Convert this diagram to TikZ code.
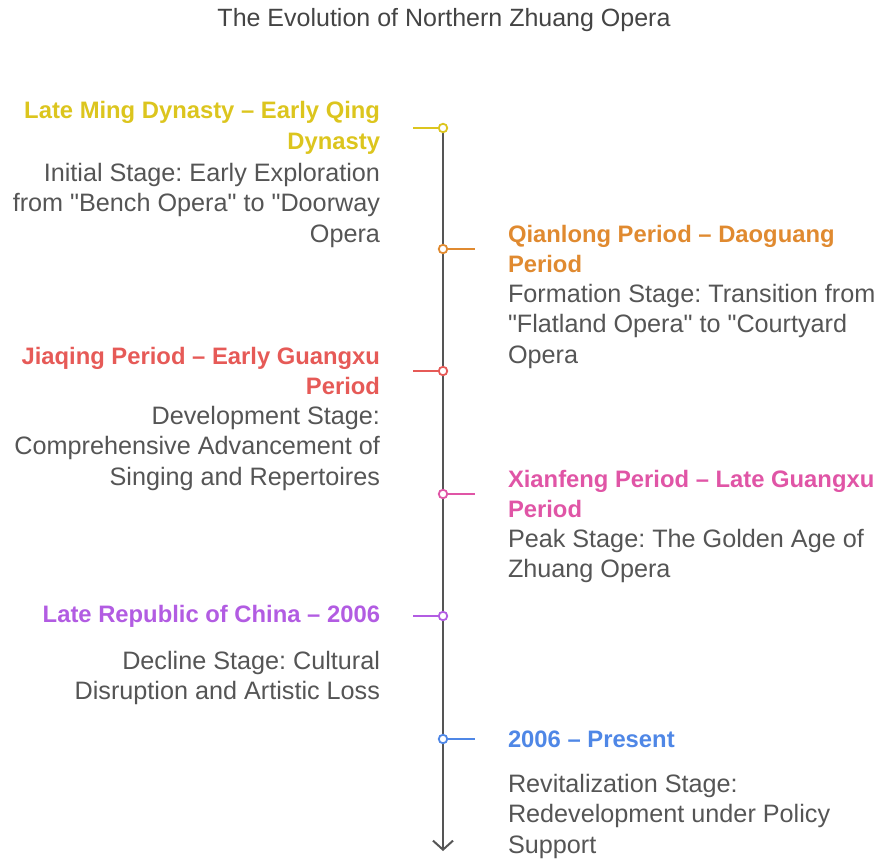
\documentclass[tikz,border=0pt]{standalone}
\usepackage{fontspec}
\setmainfont{Liberation Sans}
\frenchspacing
\usetikzlibrary{positioning,arrows.meta}

\definecolor{axisgray}{HTML}{555555}
\definecolor{textgray}{HTML}{555555}
\definecolor{titlegray}{HTML}{444444}
\definecolor{cyellow}{HTML}{DCC51E}
\definecolor{corange}{HTML}{E08A30}
\definecolor{cred}{HTML}{E65A57}
\definecolor{cpink}{HTML}{E055A6}
\definecolor{cpurple}{HTML}{B25CE2}
\definecolor{cblue}{HTML}{4F87E6}

\newcommand{\qt}{\textquotedbl}

\tikzset{
  every node/.style={inner sep=0pt, outer sep=0pt},
  dot/.style={circle, draw=#1, fill=white, line width=1.8pt, minimum size=8.5pt},
  tick/.style={draw=#1, line width=2pt},
  period/.style={text=#1, font=\fontsize{23.8}{30.8}\selectfont\bfseries, minimum height=70pt},
  stage/.style={text=textgray, font=\fontsize{25.2}{30.4}\selectfont},
  leftside/.style={align=right},
  rightside/.style={align=left},
}

\begin{document}
\begin{tikzpicture}[x=1pt,y=-1pt]
\useasboundingbox (0,0) rectangle (883,859);

\node[text=titlegray, font=\fontsize{25}{28}\selectfont] (title) at (444,20) {The Evolution of Northern Zhuang Opera};

% time axis
\coordinate (top) at (443,128);
\coordinate (bottom) at (443,851);
\draw[axisgray, line width=2pt, -{Straight Barb[length=9pt,width=20pt,line width=2pt]}] (top) -- (bottom);

% stage markers on the axis
\node[dot=cyellow] (d1) at (443,128) {};
\node[dot=corange] (d2) at (443,249) {};
\node[dot=cred] (d3) at (443,371) {};
\node[dot=cpink] (d4) at (443,494) {};
\node[dot=cpurple] (d5) at (443,616) {};
\node[dot=cblue] (d6) at (443,739) {};

% ticks, alternating left and right
\coordinate (t1) at (413,128);
\coordinate (t2) at (475,249);
\coordinate (t3) at (413,371);
\coordinate (t4) at (475,494);
\coordinate (t5) at (413,616);
\coordinate (t6) at (475,739);
\draw[tick=cyellow] (t1) -- (d1.west);
\draw[tick=corange] (d2.east) -- (t2);
\draw[tick=cred] (t3) -- (d3.west);
\draw[tick=cpink] (d4.east) -- (t4);
\draw[tick=cpurple] (t5) -- (d5.west);
\draw[tick=cblue] (d6.east) -- (t6);

% period headings
\node[period=cyellow, leftside, left=33pt of t1] (p1) {Late Ming Dynasty -- Early Qing\\Dynasty};
\node[period=corange, rightside, right=33pt of t2] (p2) {Qianlong Period -- Daoguang\\Period};
\node[period=cred, leftside, left=33pt of t3] (p3) {Jiaqing Period -- Early Guangxu\\Period};
\node[period=cpink, rightside, right=33pt of t4] (p4) {Xianfeng Period -- Late Guangxu\\Period};
\node[period=cpurple, leftside, left=33pt of t5] (p5) {Late Republic of China -- 2006};
\node[period=cblue, rightside, right=33pt of t6] (p6) {2006 -- Present};

% stage descriptions
\node[stage, leftside, anchor=north east] (s1) at (p1.south east) {Initial Stage: Early Exploration\\from \qt Bench Opera\qt{} to \qt Doorway\\Opera};
\node[stage, rightside, anchor=north west] (s2) at (p2.south west) {Formation Stage: Transition from\\\qt Flatland Opera\qt{} to \qt Courtyard\\Opera};
\node[stage, leftside, anchor=north east] (s3) at (p3.south east) {Development Stage:\\Comprehensive Advancement of\\Singing and Repertoires};
\node[stage, rightside, anchor=north west] (s4) at (p4.south west) {Peak Stage: The Golden Age of\\Zhuang Opera};
\node[stage, leftside, anchor=north east] (s5) at (p5.south east) {Decline Stage: Cultural\\Disruption and Artistic Loss};
\node[stage, rightside, anchor=north west] (s6) at (p6.south west) {Revitalization Stage:\\Redevelopment under Policy\\Support};
\end{tikzpicture}
\end{document}
